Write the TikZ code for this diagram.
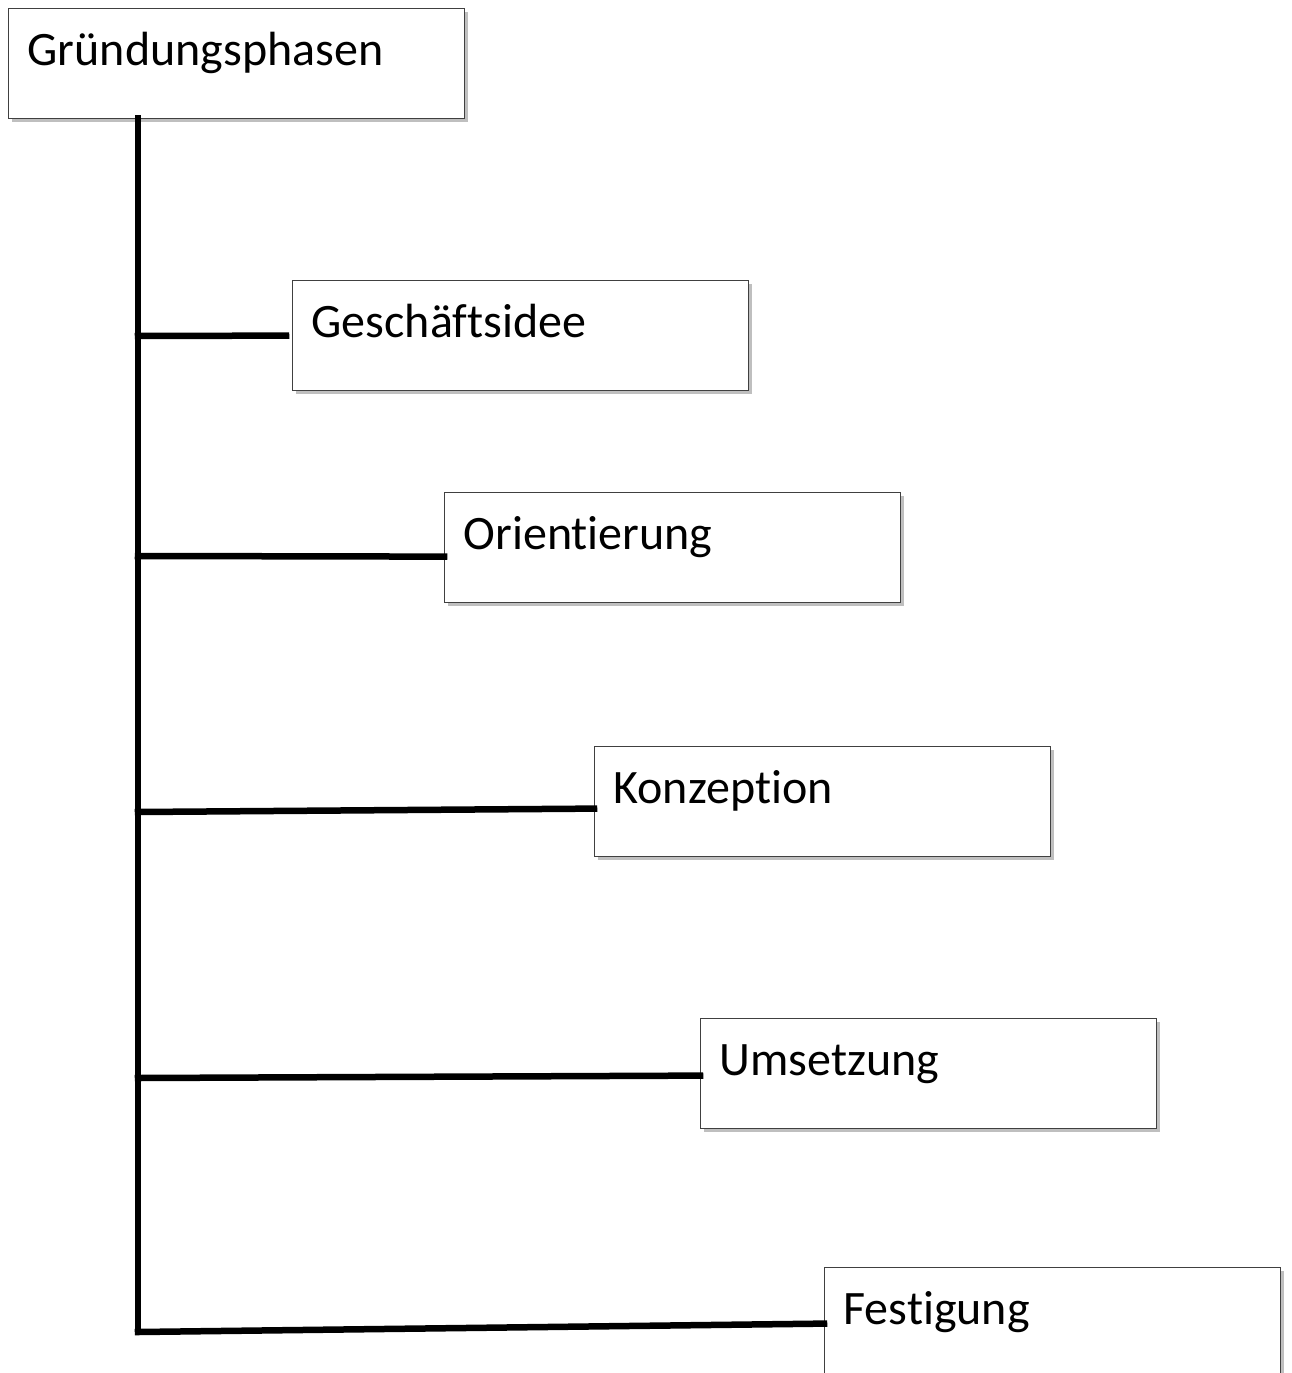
\documentclass[tikz,border=0pt]{standalone}
\usepackage{fontspec}
\setmainfont{Carlito}[Ligatures={NoCommon,NoRare,NoContextual}]
\usetikzlibrary{shadows}

\begin{document}
\begin{tikzpicture}[x=1pt, y=1pt,
  phase/.style={draw=black!75, line width=1.2pt, fill=white, anchor=north west,
    minimum width=456pt, text width=418pt, inner xsep=19pt, inner ysep=0pt,
    text height=57pt, text depth=53pt, align=left,
    font=\fontsize{48}{56}\selectfont,
    drop shadow={shadow xshift=3pt, shadow yshift=-3pt, fill=black, opacity=0.25}},
  trunk/.style={line width=6.5pt, line cap=rect}]
\clip (0,0) rectangle (1291,-1373);
\fill[white] (0,0) rectangle (1291,-1373);

\node[phase] (P0) at (8,-8) {Gründungsphasen};
\node[phase] (P1) at (292,-280) {Geschäftsidee};
\node[phase] (P2) at (444,-492) {Orientierung};
\node[phase] (P3) at (594,-746) {Konzeption};
\node[phase] (P4) at (700,-1018) {Umsetzung};
\node[phase] (P5) at (824,-1267) {Festigung};

% points on the trunk
\coordinate (T0) at (138,-118);
\coordinate (T1) at (138,-336);
\coordinate (T2) at (138,-556);
\coordinate (T3) at (138,-812);
\coordinate (T4) at (138,-1078);
\coordinate (T5) at (138,-1332);

% Draw the trunk and the branches
\draw[trunk] (T0) -- (T5);
\draw[trunk] (T1) -- ([xshift=-6pt]P1.west);
\draw[trunk] (T2) -- ([yshift=-9pt]P2.west);
\draw[trunk] (T3) -- ([yshift=-7pt]P3.west);
\draw[trunk] (T4) -- ([yshift=-2pt]P4.west);
\draw[trunk] (T5) -- ([yshift=-1pt]P5.west);

\end{tikzpicture}
\end{document}
